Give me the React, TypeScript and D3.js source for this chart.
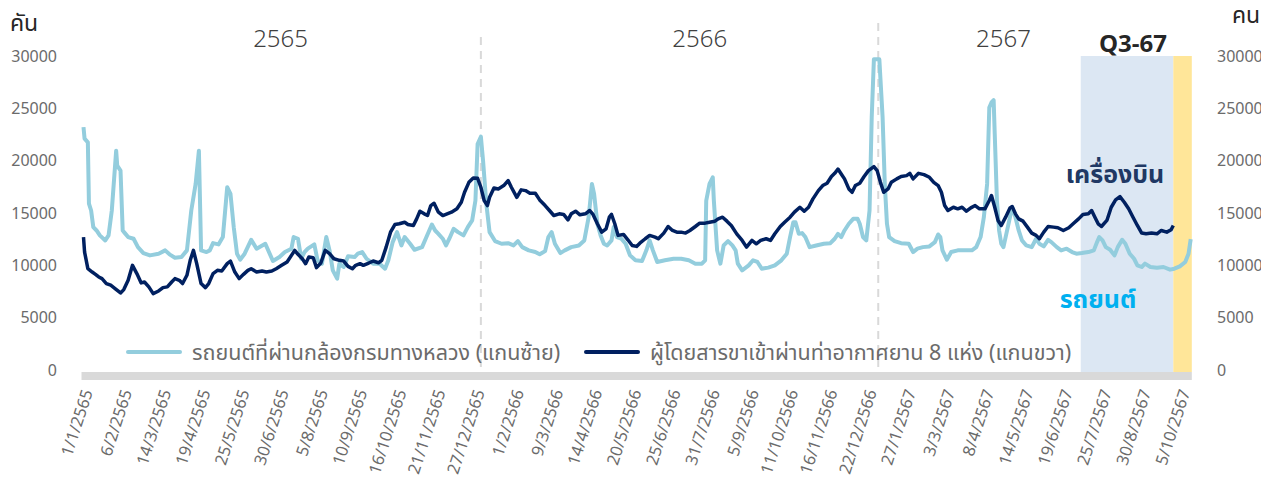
import React from 'react';
import * as d3 from 'd3';

// day offsets are counted from 1/1/2565 (1 Jan 2022)
const carDays = [0, 1, 4, 5, 7, 9, 12, 15, 20, 23, 26, 30, 31, 34, 36, 38, 41, 46, 50, 55, 61, 69, 75, 79, 84, 90, 95, 99, 103, 106, 108, 113, 116, 119, 124, 128, 132, 135, 138, 141, 144, 148, 154, 159, 167, 174, 180, 185, 191, 193, 197, 200, 203, 206, 212, 215, 219, 223, 226, 229, 233, 235, 239, 243, 249, 252, 256, 260, 266, 272, 277, 280, 284, 288, 292, 295, 300, 304, 311, 315, 320, 323, 326, 330, 333, 336, 340, 344, 349, 353, 357, 360, 362, 365, 367, 370, 373, 378, 384, 390, 395, 399, 403, 409, 415, 419, 424, 427, 430, 433, 438, 442, 448, 455, 460, 464, 467, 469, 472, 475, 478, 481, 485, 487, 490, 494, 498, 502, 507, 513, 517, 520, 523, 527, 534, 542, 549, 556, 562, 568, 571, 572, 575, 578, 579, 582, 585, 588, 592, 596, 599, 601, 605, 611, 615, 619, 623, 629, 635, 641, 646, 649, 652, 654, 657, 660, 663, 667, 673, 680, 686, 690, 693, 696, 699, 703, 707, 711, 713, 716, 719, 722, 724, 726, 731, 734, 736, 738, 740, 745, 751, 758, 762, 766, 771, 777, 782, 785, 787, 789, 793, 797, 803, 810, 816, 820, 824, 827, 830, 832, 834, 836, 837, 839, 841, 843, 845, 848, 851, 853, 856, 859, 862, 866, 871, 875, 878, 882, 886, 889, 894, 898, 903, 908, 912, 917, 923, 928, 931, 933, 936, 939, 943, 947, 950, 954, 957, 961, 965, 968, 972, 975, 980, 986, 992, 998, 1002, 1007, 1012, 1015, 1017];
const carValues = [23200, 22100, 21750, 15900, 15240, 13650, 13330, 12860, 12380, 12860, 15240, 20950, 19520, 19050, 13330, 13080, 12700, 12540, 11740, 11170, 10950, 11110, 11430, 11050, 10730, 10790, 11430, 15240, 17780, 20950, 11430, 11270, 11430, 12120, 12000, 12700, 17460, 16830, 13650, 11110, 10540, 11110, 12440, 11590, 12060, 10410, 10790, 11270, 11590, 12700, 12540, 10630, 11270, 11590, 12000, 10480, 10160, 12700, 11430, 9520, 8730, 10160, 9840, 10860, 10790, 11110, 11270, 10630, 10160, 10160, 9680, 10480, 12220, 13170, 11900, 12700, 12060, 11490, 11740, 12700, 13900, 13330, 13010, 12540, 11900, 12540, 13490, 13170, 12860, 13650, 14290, 16190, 21590, 22290, 20000, 15880, 13170, 12320, 12060, 12120, 11900, 12320, 11740, 11430, 11270, 11050, 11360, 12700, 13170, 12060, 11170, 11430, 11740, 11900, 12380, 14600, 17780, 16830, 13970, 12860, 12060, 11900, 12380, 13650, 12700, 12540, 12060, 10950, 10480, 10410, 11430, 12380, 11430, 10320, 10480, 10630, 10630, 10480, 10160, 10160, 10480, 16190, 17780, 18410, 16190, 11430, 10160, 11900, 12320, 11900, 11430, 10160, 9520, 10000, 10480, 10320, 9680, 9780, 10000, 10480, 11110, 12700, 14120, 14120, 13010, 13080, 12700, 11740, 11900, 12060, 12120, 12540, 13010, 12700, 13330, 13970, 14440, 14440, 13970, 12700, 12380, 15240, 24130, 29690, 29690, 24130, 17780, 13970, 12700, 12320, 12120, 12060, 11270, 11590, 11740, 11810, 12220, 12950, 12700, 11430, 10540, 11270, 11430, 11430, 11430, 11740, 12700, 14600, 17780, 25080, 25560, 25780, 22540, 16190, 13330, 12060, 11740, 13170, 14600, 15550, 14600, 13330, 12380, 11900, 11740, 12540, 12060, 11810, 12440, 12220, 11740, 11430, 11590, 11270, 11110, 11170, 11270, 11430, 12220, 12700, 12380, 11740, 11490, 10950, 11740, 12440, 12060, 11110, 10630, 10000, 9840, 10160, 9840, 9780, 9840, 9590, 9680, 9900, 10320, 11110, 12500];

const airDays = [0, 1, 4, 8, 11, 14, 17, 21, 25, 29, 34, 37, 41, 45, 49, 53, 56, 60, 64, 69, 73, 77, 81, 84, 88, 91, 95, 98, 101, 104, 108, 112, 115, 119, 123, 127, 132, 135, 139, 143, 147, 151, 154, 159, 164, 168, 173, 177, 182, 187, 191, 194, 197, 201, 204, 207, 211, 214, 218, 222, 226, 230, 235, 239, 243, 247, 250, 254, 257, 262, 266, 271, 274, 278, 282, 286, 290, 295, 298, 303, 306, 309, 313, 316, 319, 322, 326, 330, 334, 338, 343, 347, 350, 354, 358, 362, 365, 368, 371, 373, 377, 381, 386, 390, 393, 398, 402, 406, 410, 415, 419, 424, 428, 432, 437, 441, 445, 448, 452, 456, 461, 465, 468, 472, 476, 480, 483, 485, 488, 491, 496, 500, 504, 508, 511, 516, 520, 525, 528, 533, 537, 541, 545, 549, 553, 557, 562, 566, 571, 575, 580, 583, 587, 591, 595, 600, 605, 609, 614, 618, 622, 627, 631, 635, 640, 644, 649, 653, 658, 662, 666, 670, 675, 679, 683, 687, 690, 693, 696, 699, 703, 706, 709, 713, 717, 721, 726, 729, 732, 735, 739, 742, 747, 751, 756, 759, 762, 767, 772, 777, 781, 785, 788, 791, 794, 799, 803, 807, 811, 815, 819, 823, 828, 832, 834, 837, 840, 843, 847, 851, 853, 856, 859, 863, 867, 871, 875, 878, 882, 886, 891, 895, 900, 905, 909, 914, 918, 923, 926, 929, 932, 935, 940, 944, 948, 952, 956, 960, 964, 968, 972, 976, 981, 986, 990, 995, 999, 1001];
const airValues = [12700, 11270, 9680, 9360, 9140, 8890, 8730, 8260, 8100, 7780, 7360, 7680, 8570, 10000, 9210, 8320, 8410, 7940, 7300, 7550, 7870, 7940, 8410, 8730, 8570, 8260, 9050, 10480, 11430, 10160, 8260, 7870, 8260, 9210, 9520, 9460, 10160, 10410, 9360, 8730, 9140, 9520, 9680, 9360, 9460, 9360, 9460, 9680, 10000, 10320, 10950, 11430, 11050, 10630, 10160, 10790, 10730, 9780, 10220, 11430, 11110, 10630, 10480, 10410, 9900, 9680, 10000, 10160, 10000, 10220, 10410, 10250, 10480, 11740, 13170, 13900, 13970, 14120, 13900, 13810, 14440, 15170, 14920, 14760, 15710, 15930, 15080, 14760, 14920, 15080, 15400, 16030, 16980, 17930, 18350, 18320, 17460, 16190, 15710, 16500, 17390, 17300, 17620, 18100, 17460, 16500, 17210, 17140, 16890, 16890, 16250, 15710, 15240, 14760, 14920, 14860, 14350, 14920, 15170, 14830, 14920, 15240, 14860, 13970, 13170, 13490, 14600, 14860, 13970, 12860, 12950, 12440, 11900, 11810, 12120, 12540, 12860, 12700, 12540, 13080, 13710, 13330, 13170, 13170, 13080, 13330, 13710, 14030, 14030, 14120, 14220, 14440, 14600, 14220, 13810, 13010, 12380, 11740, 12380, 12060, 12380, 12540, 12380, 13010, 13710, 14120, 14600, 15080, 15550, 15170, 15550, 16350, 17140, 17620, 17840, 18480, 18790, 19200, 18730, 18260, 17300, 16980, 17620, 17840, 18480, 19050, 19430, 19050, 17930, 16980, 17300, 17930, 18260, 18480, 18570, 18790, 18260, 18790, 18670, 18410, 17930, 17620, 16980, 15710, 15240, 15550, 15400, 15550, 15170, 15490, 15710, 15400, 15400, 16190, 16670, 15550, 14290, 13810, 14600, 15490, 15620, 14920, 14440, 14220, 13650, 13080, 12860, 12540, 13170, 13710, 13650, 13590, 13330, 13590, 13970, 14440, 14860, 14920, 15240, 14600, 13970, 13710, 14290, 15550, 16250, 16570, 16030, 15400, 14600, 13810, 13080, 13010, 13080, 13010, 13330, 13170, 13400, 13810];

const seriesNames = ['รถยนต์ที่ผ่านกล้องกรมทางหลวง (แกนซ้าย)', 'ผู้โดยสารขาเข้าผ่านท่าอากาศยาน 8 แห่ง (แกนขวา)'];
const yearLabels = ['2565', '2566', '2567'];
const yearLabelDays = [181, 566, 845];
const yearBreakDays = [365, 730];
const yTicks = [0, 5000, 10000, 15000, 20000, 25000, 30000];
const q3Days = [916, 1001];
const latestDays = [1001, 1018];
const q3Label = 'Q3-67';
const q3LabelDay = 964;
const tickStep = 36;
const lastTickDay = 1008;
const endDay = 1018;

const START = new Date(2022, 0, 1);
const dayDate = (d: number) => d3.timeDay.offset(START, d);

const CAR = '#93cddd';
const AIR = '#002060';
const FONT = "'Noto Sans Thai', 'Leelawadee UI', Tahoma, 'Noto Sans', 'Open Sans', sans-serif";

export default function App() {
  const x = d3.scaleTime().domain([START, dayDate(endDay)]).range([83.5, 83.5 + endDay * 1.0887]);
  const y = d3.scaleLinear().domain([0, 30000]).range([370, 56]);

  const carLine = d3.line<number>()
    .x((d, i) => x(dayDate(carDays[i])))
    .y(d => y(d));
  const airLine = d3.line<number>()
    .x((d, i) => x(dayDate(airDays[i])))
    .y(d => y(d));

  const ticks = d3.range(0, lastTickDay + 1, tickStep).map(dayDate);
  const fmt = (d: Date) => `${d.getDate()}/${d.getMonth() + 1}/${d.getFullYear() + 543}`;

  const [x0, x1] = x.range();

  return (
    <svg width={1261} height={479} style={{ position: 'absolute', left: 0, top: 0, background: '#fff' }}
      fontFamily={FONT}>
      {/* Q3 and latest-month shading */}
      <rect x={x(dayDate(q3Days[0]))} y={y(30000)} width={x(dayDate(q3Days[1])) - x(dayDate(q3Days[0]))}
        height={y(0) + 2 - y(30000)} fill="#dce7f3" />
      <rect x={x(dayDate(latestDays[0]))} y={y(30000)} width={x(dayDate(latestDays[1])) - x(dayDate(latestDays[0]))}
        height={y(0) + 2 - y(30000)} fill="#ffe699" />

      {/* year separators */}
      {yearBreakDays.map((d, i) => (
        <line key={d} x1={x(dayDate(d))} x2={x(dayDate(d))} y1={i === 0 ? 37 : 23} y2={y(0)}
          stroke="#d9d9d9" strokeWidth={2} strokeDasharray="8,6" />
      ))}

      {/* axis band */}
      <rect x={x0 - 2} y={y(0) + 2} width={x1 - x0 + 2} height={8} fill="#d9d9d9" />

      {/* left and right y tick labels */}
      {yTicks.map(t => (
        <g key={t} fontSize={16} fill="#6b6b6b">
          <text x={57} y={y(t)} dy="0.35em" textAnchor="end">{t}</text>
          <text x={1217} y={y(t)} dy="0.35em">{t}</text>
        </g>
      ))}
      <text x={10} y={31} fontSize={23} fill="#262626">คัน</text>
      <text x={1232} y={23} fontSize={23} fill="#262626">คน</text>

      {/* year labels */}
      {yearLabels.map((l, i) => (
        <text key={l} x={x(dayDate(yearLabelDays[i]))} y={47} textAnchor="middle" fontSize={24}
          fill="#404040" fontWeight={300}>{l}</text>
      ))}
      <text x={x(dayDate(q3LabelDay))} y={52} textAnchor="middle" fontSize={24} fontWeight={700}
        fill="#262626">{q3Label}</text>

      {/* x tick labels */}
      {ticks.map(t => (
        <text key={+t} transform={`translate(${x(t) + 4},390) rotate(-72)`} textAnchor="end" dy="0.35em"
          fontSize={16.5} fill="#6b6b6b">{fmt(t)}</text>
      ))}

      {/* series */}
      <path d={carLine(carValues) || ''} fill="none" stroke={CAR} strokeWidth={4} strokeLinejoin="round" />
      <path d={airLine(airValues) || ''} fill="none" stroke={AIR} strokeWidth={3.5} strokeLinejoin="round" />

      {/* legend */}
      <line x1={128} x2={180} y1={352} y2={352} stroke={CAR} strokeWidth={4} strokeLinecap="round" />
      <text x={192} y={352} dy="0.35em" fontSize={21.5} fill="#6b6b6b">{seriesNames[0]}</text>
      <line x1={586} x2={638} y1={352} y2={352} stroke={AIR} strokeWidth={4} strokeLinecap="round" />
      <text x={650} y={352} dy="0.35em" fontSize={21.5} fill="#6b6b6b">{seriesNames[1]}</text>

      {/* annotations */}
      <text x={1115} y={183} textAnchor="middle" fontSize={25} fontWeight={700} fill="#203864">เครื่องบิน</text>
      <text x={1098} y={308} textAnchor="middle" fontSize={25} fontWeight={700} fill="#00b0f0">รถยนต์</text>
    </svg>
  );
}
